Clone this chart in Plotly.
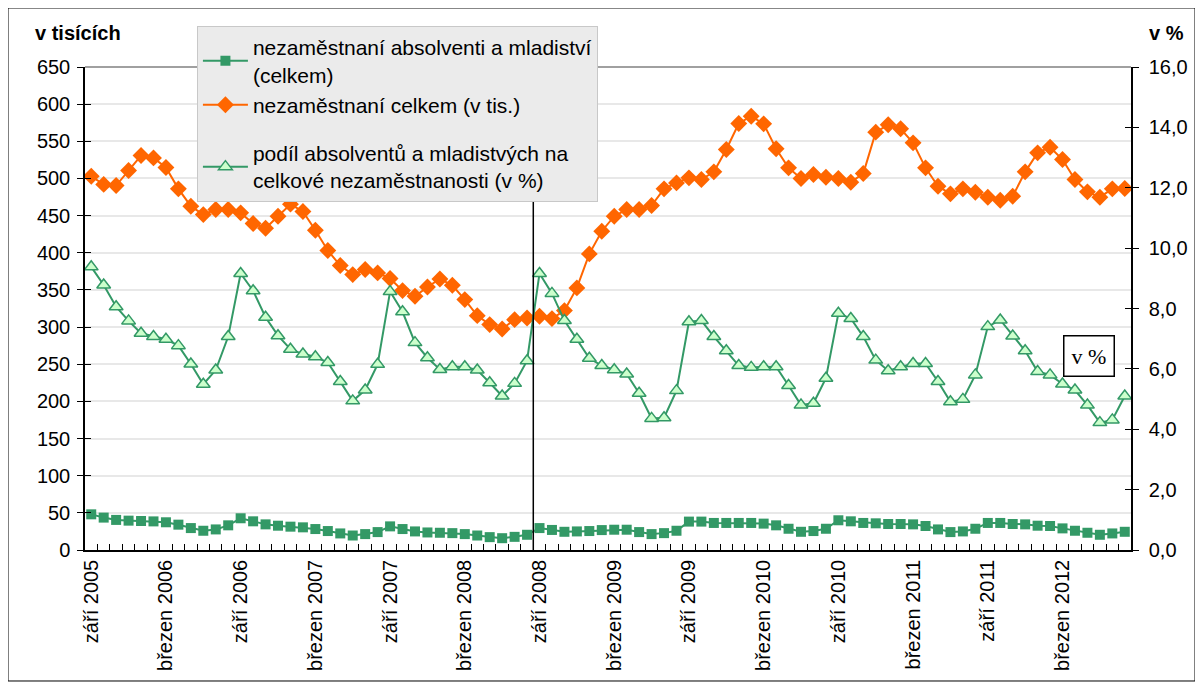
import plotly.graph_objects as go

# nazvy mesicu, osa jde od zari 2005 do srpna 2012
nazvy_mesicu = ["leden", "únor", "březen", "duben", "květen", "červen",
                "červenec", "srpen", "září", "říjen", "listopad", "prosinec"]
mesice = [f"{nazvy_mesicu[(8 + i) % 12]} {2005 + (8 + i) // 12}" for i in range(84)]
popisky = [m if m.startswith(("září", "březen")) else "" for m in mesice]

# nezamestnani absolventi a mladistvi (v tis.)
absolventi = [48, 43.6, 40.5, 39.5, 39, 38.5, 37.3, 34.1, 29.5, 25.9, 27.7, 33.2,
              42.7, 38.6, 34.5, 32.7, 31.4, 30.5, 28.2, 25.5, 22.3, 19.5, 21.4, 24.1,
              31.8, 28.2, 25, 23.6, 23.2, 22.7, 21.4, 19.5, 17.3, 15.9, 17.7, 20.5,
              29.5, 27, 24.5, 25, 25.5, 26.8, 27.3, 27.3, 24.1, 21.4, 22.7, 25.9,
              38.2, 38.2, 36.4, 36.4, 36.4, 36.4, 35.5, 33.2, 28.6, 24.5, 25.5, 28.6,
              40, 38.6, 36.4, 35.9, 35, 35, 34.5, 32.3, 27.7, 24.1, 25, 28.6,
              36.4, 36.4, 35, 34.5, 32.7, 32.3, 29.1, 25.9, 23.2, 20.5, 22.3, 24.5]

# nezamestnani celkem (v tis.)
celkem = [503, 492, 490.5, 510.7, 530.9, 527.7, 514.7, 486, 462.7, 451.4, 458.2, 458.2,
          453.7, 439.3, 433, 449.2, 465.4, 455.5, 430.3, 403, 382.8, 370.6, 377.4, 372.9,
          365.3, 349.1, 341.5, 354, 364.8, 356.3, 337, 315.4, 303.3, 297.5, 310, 312.3,
          314.5, 311.4, 322.2, 352.7, 398.5, 429, 449.2, 458.2, 458.2, 463.6, 486, 494,
          500.8, 498.6, 508.9, 539, 574, 583.8, 573.5, 539.9, 514.3, 500, 505.3, 501.7,
          500, 495, 506.6, 562.3, 572.2, 566.8, 547.9, 514.3, 489.6, 479.3, 486, 481.5,
          474.8, 470.7, 476.1, 508.9, 534.5, 542.1, 525.5, 498.6, 482, 474.8, 486, 486.4]

# podil absolventu a mladistvych na celkove nezamestnanosti (v %)
podil = [9.38, 8.78, 8.06, 7.59, 7.18, 7.07, 6.98, 6.77, 6.16, 5.49, 5.96, 7.07,
         9.16, 8.59, 7.71, 7.10, 6.65, 6.49, 6.40, 6.21, 5.58, 4.94, 5.30, 6.15,
         8.56, 7.89, 6.87, 6.37, 5.98, 6.07, 6.07, 5.96, 5.54, 5.10, 5.52, 6.27,
         9.16, 8.50, 7.60, 6.98, 6.35, 6.11, 5.97, 5.83, 5.19, 4.36, 4.38, 5.28,
         7.56, 7.60, 7.07, 6.60, 6.11, 6.05, 6.07, 6.07, 5.45, 4.80, 4.86, 5.69,
         7.84, 7.67, 7.07, 6.29, 5.94, 6.07, 6.18, 6.18, 5.58, 4.91, 4.99, 5.80,
         7.40, 7.62, 7.09, 6.60, 5.91, 5.80, 5.50, 5.30, 4.80, 4.22, 4.31, 5.10]

zelena = "#339966"
oranzova = "#ff6600"
pismo = dict(family="Liberation Sans, Arial", size=20, color="black")

fig = go.Figure()
fig.add_trace(go.Scatter(x=mesice, y=absolventi, mode="lines+markers",
                         name="nezaměstnaní absolventi a mladiství<br>(celkem)",
                         line=dict(color=zelena, width=2),
                         marker=dict(symbol="square", size=10, color=zelena),
                         legendgroup="a"))
fig.add_trace(go.Scatter(x=mesice, y=celkem, mode="lines+markers",
                         name="nezaměstnaní celkem (v tis.)",
                         line=dict(color=oranzova, width=2),
                         marker=dict(symbol="diamond", size=13, color=oranzova),
                         legendgroup="a"))
fig.add_trace(go.Scatter(x=mesice, y=podil, mode="lines+markers", yaxis="y2",
                         name="podíl absolventů a mladistvých na<br>celkové nezaměstnanosti (v %)",
                         line=dict(color=zelena, width=2),
                         marker=dict(symbol="triangle-up", size=12, color="#ccffcc",
                                     line=dict(color=zelena, width=1.5)),
                         legendgroup="b"))
# prazdne stopy jen kvuli krizovym carkam na osach
fig.add_trace(go.Scatter(x=[], y=[], yaxis="y3", showlegend=False, hoverinfo="skip"))
fig.add_trace(go.Scatter(x=[], y=[], yaxis="y4", showlegend=False, hoverinfo="skip"))

zari_2008 = mesice.index("září 2008") - 0.5

fig.update_layout(
    width=1203, height=689,
    margin=dict(l=77, r=80, t=59, b=147),
    paper_bgcolor="white", plot_bgcolor="white",
    font=pismo,
    separators=", ",
    xaxis=dict(type="category", range=[-0.5, 83.5], tickvals=mesice, ticktext=popisky,
               tickson="boundaries", ticks="inside", ticklen=6, tickcolor="black",
               tickangle=-90, showline=True, linecolor="black", linewidth=1.5,
               showgrid=False, tickfont=pismo),
    yaxis=dict(range=[0, 650], dtick=50, ticks="outside", ticklen=6, tickcolor="black",
               showline=True, linecolor="black", linewidth=1.5, showgrid=True,
               gridcolor="#e8e8e8", gridwidth=1.5, zeroline=False, tickfont=pismo,
               ticklabelstandoff=3),
    yaxis3=dict(range=[0, 650], dtick=50, overlaying="y", side="left", ticks="inside",
                ticklen=6, tickcolor="black", showticklabels=False, showgrid=False,
                showline=False, zeroline=False),
    yaxis2=dict(range=[0, 16], dtick=2, tickformat=".1f", overlaying="y", side="right",
                ticks="outside", ticklen=6, tickcolor="black", showline=True,
                linecolor="black", linewidth=1.5, showgrid=False, zeroline=False,
                tickfont=pismo, ticklabelstandoff=6),
    yaxis4=dict(range=[0, 16], dtick=2, overlaying="y", side="right", ticks="inside",
                ticklen=6, tickcolor="black", showticklabels=False, showgrid=False,
                showline=False, zeroline=False),
    legend=dict(x=0.107, y=1.085, xanchor="left", yanchor="top", bgcolor="#ebebeb",
                bordercolor="#c8c8c8", borderwidth=1,
                font=dict(family="Liberation Sans, Arial", size=21, color="black"),
                traceorder="grouped", tracegroupgap=18, itemwidth=45),
    shapes=[
        dict(type="line", xref="paper", yref="paper", x0=0, x1=1, y0=1, y1=1,
             line=dict(color="#808080", width=1.5)),
        dict(type="line", xref="x", yref="paper", x0=zari_2008, x1=zari_2008, y0=0, y1=1,
             line=dict(color="black", width=1.5)),
        dict(type="rect", xref="paper", yref="paper", x0=-0.0736, x1=1.0612,
             y0=-0.2712, y1=1.1222, line=dict(color="black", width=1)),
    ],
    annotations=[
        dict(text="<b>v tisících</b>", xref="paper", yref="paper", x=-0.0497, y=1.0704,
             xanchor="left", yanchor="middle", showarrow=False, font=pismo),
        dict(text="<b>v %</b>", xref="paper", yref="paper", x=1.0153, y=1.0704,
             xanchor="left", yanchor="middle", showarrow=False, font=pismo),
        dict(text="v %", xref="paper", yref="paper", x=0.96, y=0.4017,
             xanchor="center", yanchor="middle", showarrow=False,
             font=dict(family="Liberation Serif, Times New Roman", size=22, color="black"),
             bordercolor="black", borderwidth=1.5, borderpad=7, bgcolor="white"),
    ],
)

fig.write_html("out.html")
